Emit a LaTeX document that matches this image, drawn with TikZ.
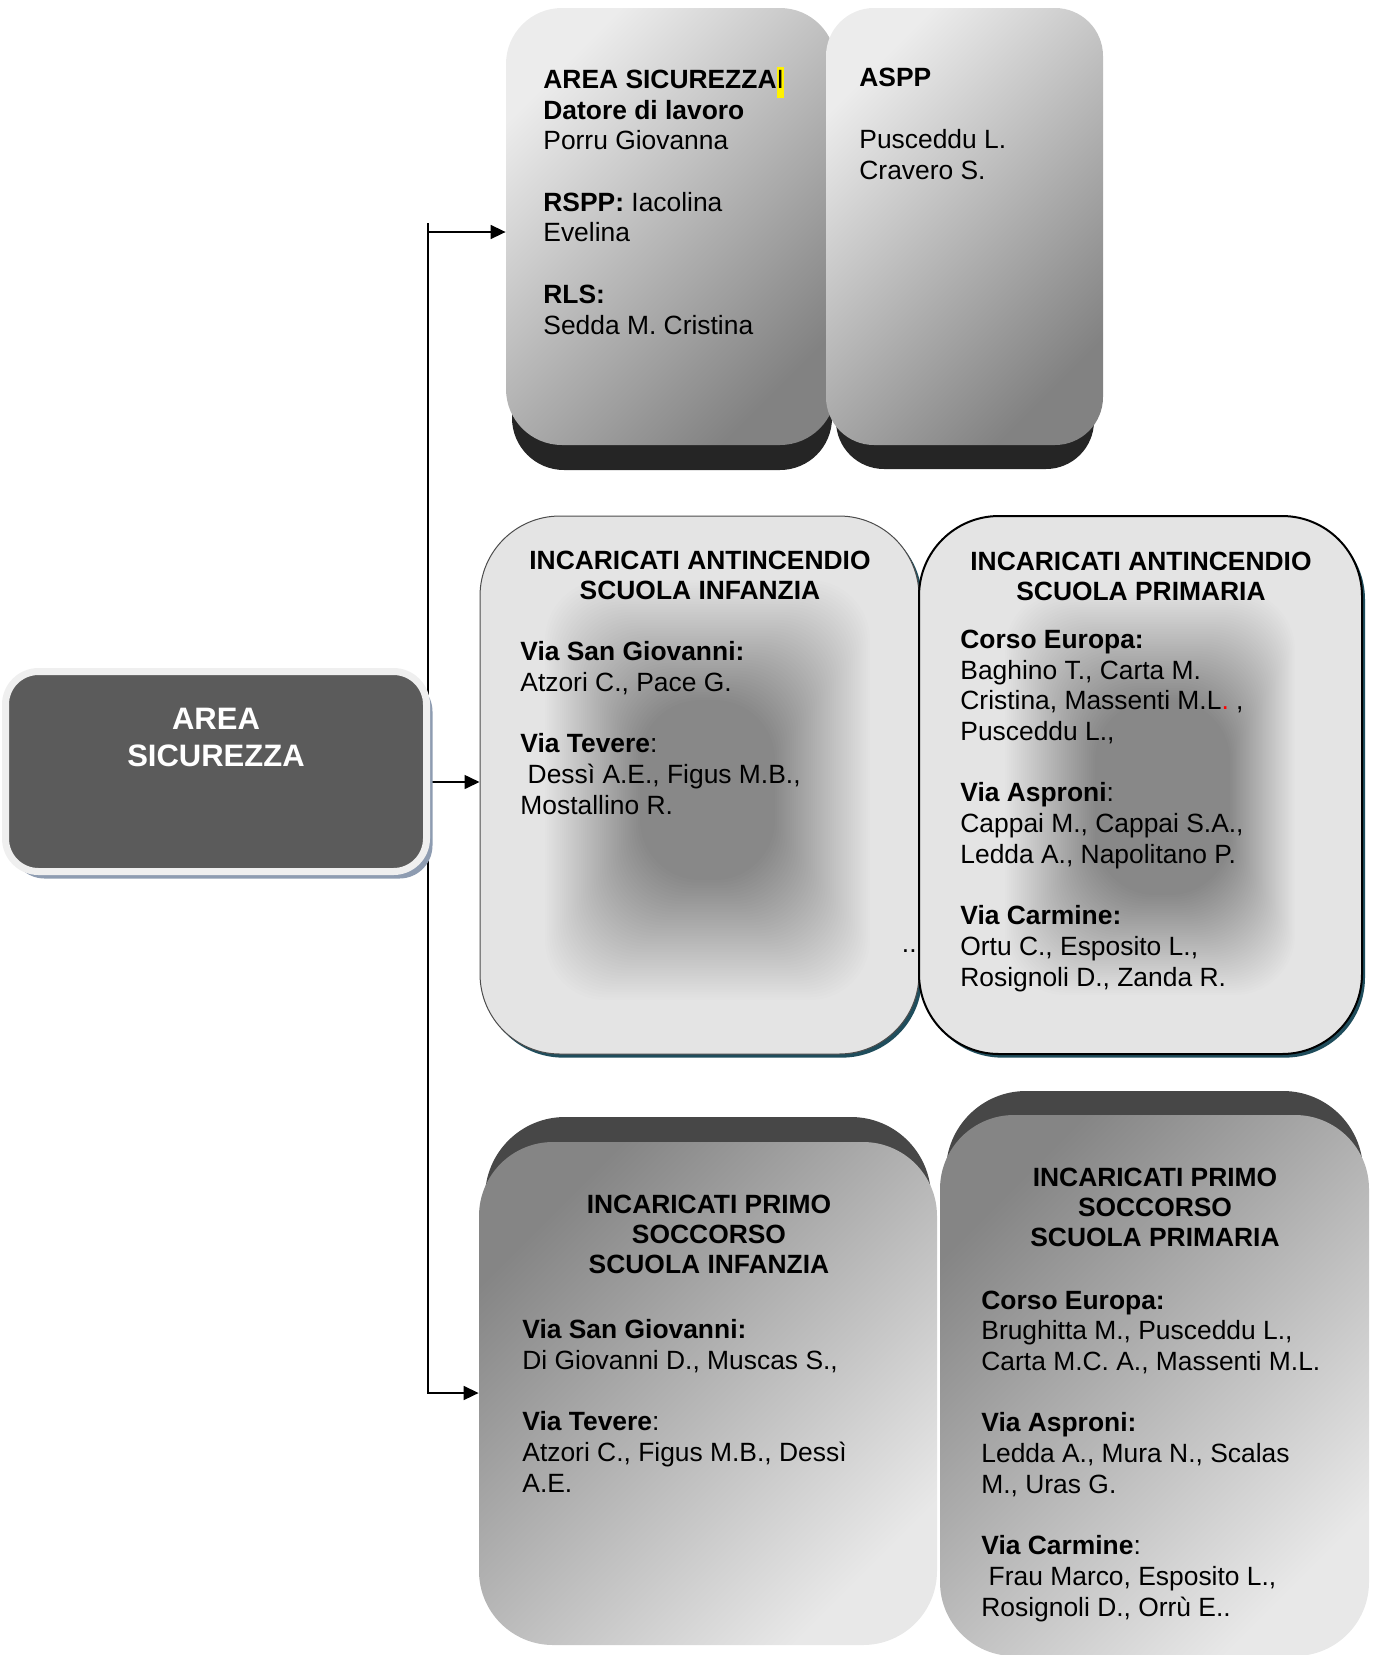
\documentclass[tikz,border=0pt]{standalone}
\usepackage{fontspec}
\setmainfont{Liberation Sans}
\usetikzlibrary{arrows.meta,shadows,backgrounds}
\definecolor{maindark}{HTML}{5B5B5B}
\definecolor{mainrim}{HTML}{EFEFEF}
\definecolor{mainshadow}{HTML}{8E9CB1}
\definecolor{tblight}{HTML}{ECECEC}
\definecolor{tbdark}{HTML}{828282}
\definecolor{tbbase}{HTML}{252525}
\definecolor{midbg}{HTML}{E4E4E4}
\definecolor{midshadow}{HTML}{1F4D5C}
\definecolor{bbdark}{HTML}{858585}
\definecolor{bblight}{HTML}{E8E8E8}
\definecolor{bbtop}{HTML}{474747}
\newcommand{\hlI}{{\setlength{\fboxsep}{0pt}\colorbox{yellow}{\strut I}}}
\begin{document}
\begin{tikzpicture}[x=0.5pt,y=-0.5pt,
  topface/.style={rectangle, inner sep=0pt, top color=tblight, bottom color=tbdark, shading angle=45},
  botface/.style={rectangle, inner sep=0pt, rounded corners=37pt, top color=bbdark, bottom color=bblight, shading angle=45},
  midbox/.style={rectangle, inner sep=0pt, rounded corners=40pt, fill=midbg, minimum height=269pt,
    drop shadow={shadow xshift=1.5pt,shadow yshift=-1.8pt,fill=midshadow,opacity=1}},
  bloblayer/.style={fill=black, opacity=0.0092, rounded corners=30pt},
  txt/.style={inner sep=0pt, align=left, anchor=base west, font=\fontsize{13.2}{15.35}\selectfont},
  ttl/.style={inner sep=0pt, align=center, anchor=base, font=\fontsize{13.2}{15}\selectfont\bfseries},
  conn/.style={draw=black, line width=0.8pt},
  arr/.style={conn, -{Triangle[length=7.5pt,width=7pt]}}
]
\useasboundingbox (0,0) rectangle (1374,1655);

% top boxes
\fill[tbbase, rounded corners=26pt] (512,33) rectangle (832,470);
\node[topface, rounded corners=28pt, minimum width=165pt, minimum height=218.5pt] (top1) at (671,226.5) {};
\fill[tbbase, rounded corners=24pt] (836,33) rectangle (1094,469);
\node[topface, rounded corners=24pt, minimum width=138.5pt, minimum height=218.5pt] (top2) at (964.5,226.5) {};

% middle boxes (blurred dark centre drawn as many faint nested layers)
\node[midbox, draw=black!70, line width=0.5pt, minimum width=219.5pt] (midL) at (699.5,785) {};
\foreach \k in {0,...,45} {
  \pgfmathsetmacro{\fr}{\k/45}
  \fill[bloblayer] ({545+95*\fr},{580+120*\fr}) rectangle ({870-95*\fr},{1000-120*\fr});
}
\node[midbox, draw=black, line width=1pt, minimum width=221.5pt] (midR) at (1140.5,785) {};
\foreach \k in {0,...,45} {
  \pgfmathsetmacro{\fr}{\k/45}
  \fill[bloblayer] ({1005+90*\fr},{590+110*\fr}) rectangle ({1295-65*\fr},{995-100*\fr});
}

% bottom boxes
\fill[bbtop, rounded corners=40pt] (485,1117) rectangle (931,1620);
\node[botface, minimum width=229pt, minimum height=251.5pt] (botL) at (708,1393.5) {};
\fill[bbtop, rounded corners=40pt] (946,1091) rectangle (1363,1630);
\node[botface, minimum width=214.5pt, minimum height=270.5pt] (botR) at (1154.5,1385.5) {};

% main box
\node[rectangle, inner sep=0pt, rounded corners=16.5pt, fill=maindark, draw=mainrim, line width=3.5pt,
  minimum width=210.5pt, minimum height=100pt,
  drop shadow={shadow xshift=3pt, shadow yshift=-3.5pt, fill=mainshadow, opacity=1}] (main) at (216,771.5) {};
\node[inner sep=0pt, align=center, anchor=base, text=white, font=\fontsize{15.5}{18.5}\selectfont\bfseries] (maintext) at (216,766) {AREA\\SICUREZZA};

% connectors
\begin{scope}[on background layer]
\coordinate (jtop) at (428,223);
\coordinate (j1) at (428,232);
\coordinate (jmid) at (428,782);
\coordinate (jbot) at (428,1393);
\draw[arr] (jtop) -- (jbot) -- (jbot -| botL.west);
\draw[arr] (j1) -- (j1 -| top1.west);
\draw[arr] (jmid) -- (jmid -| midL.west);
\end{scope}

% texts (base anchor = baseline of the last line)
\node[txt] (t1) at (543,334) {\textbf{AREA SICUREZZA}\hlI\\ \textbf{Datore di lavoro}\\ Porru Giovanna\\[15.35pt] \textbf{RSPP:} Iacolina\\ Evelina\\[15.35pt] \textbf{RLS:}\\ Sedda M. Cristina};
\node[txt] (t2) at (859,179) {\textbf{ASPP}\\[15.35pt] Pusceddu L.\\ Cravero S.};

\node[ttl] (t3h) at (700,599) {INCARICATI ANTINCENDIO\\SCUOLA INFANZIA};
\node[txt] (t3) at (520,814) {\textbf{Via San Giovanni:}\\ Atzori C., Pace G.\\[15.35pt] \textbf{Via Tevere}:\\ \ Dessì A.E., Figus M.B.,\\ Mostallino R.};

\node[ttl] (t4h) at (1141,600) {INCARICATI ANTINCENDIO\\SCUOLA PRIMARIA};
\node[txt] (t4) at (960,986) {\textbf{Corso Europa:}\\ Baghino T., Carta M.\\ Cristina, Massenti M.L\textcolor{red}{.} ,\\ Pusceddu L.,\\[15.35pt] \textbf{Via Asproni}:\\ Cappai M., Cappai S.A.,\\ Ledda A., Napolitano P.\\[15.35pt] \textbf{Via Carmine:}\\ Ortu C., Esposito L.,\\ Rosignoli D., Zanda R.};
\node[txt, anchor=base east] (dots) at (917,952) {..};

\node[ttl] (t5h) at (709,1273) {INCARICATI PRIMO\\SOCCORSO\\SCUOLA INFANZIA};
\node[txt] (t5) at (522,1492) {\textbf{Via San Giovanni:}\\ Di Giovanni D., Muscas S.,\\[15.35pt] \textbf{Via Tevere}:\\ Atzori C., Figus M.B., Dessì\\ A.E.};

\node[ttl] (t6h) at (1155,1246) {INCARICATI PRIMO\\SOCCORSO\\SCUOLA PRIMARIA};
\node[txt] (t6) at (981,1616) {\textbf{Corso Europa:}\\ Brughitta M., Pusceddu L.,\\ Carta M.C. A., Massenti M.L.\\[15.35pt] \textbf{Via Asproni:}\\ Ledda A., Mura N., Scalas\\ M., Uras G.\\[15.35pt] \textbf{Via Carmine}:\\ \ Frau Marco, Esposito L.,\\ Rosignoli D., Orrù E..};
\end{tikzpicture}
\end{document}
